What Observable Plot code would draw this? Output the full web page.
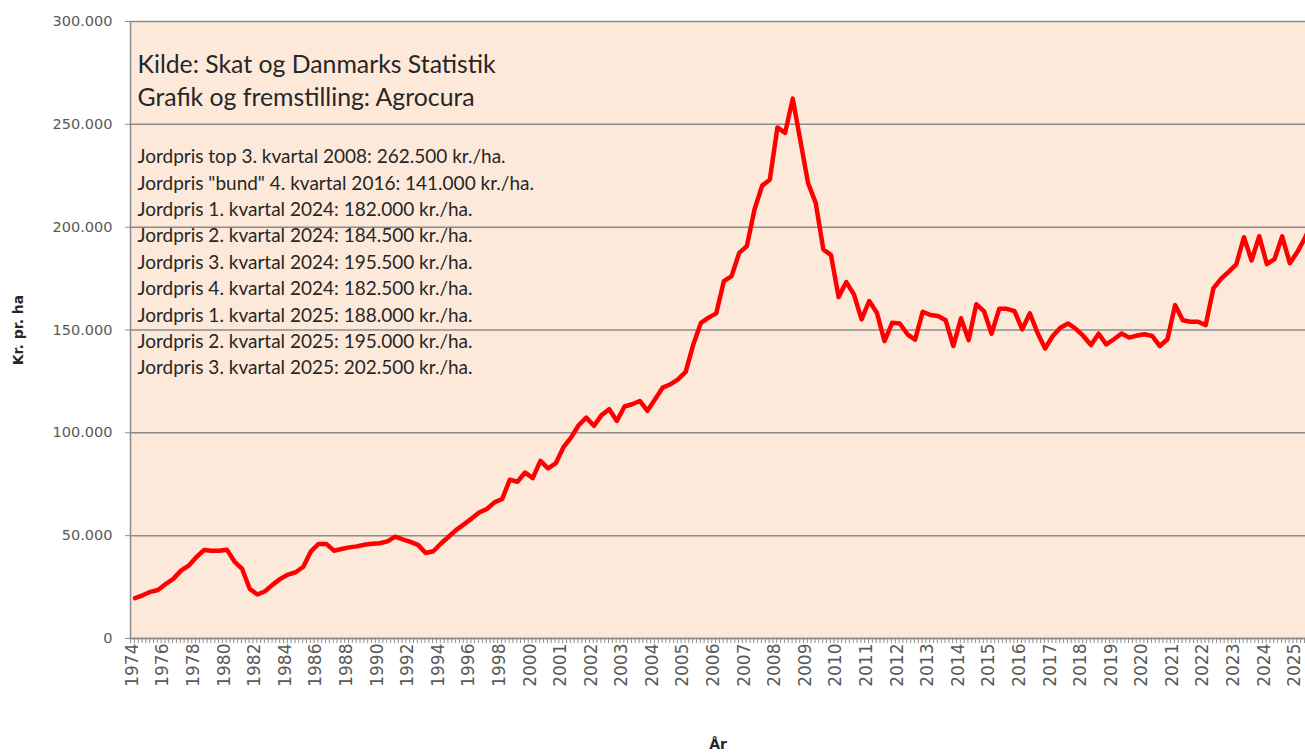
<!DOCTYPE html>
<html><head><meta charset="utf-8">
<script src="https://cdn.jsdelivr.net/npm/d3@7"></script>
<script src="https://cdn.jsdelivr.net/npm/@observablehq/plot@0.6"></script>
<style>body{margin:0;background:#fff;} #chart svg{display:block}</style>
</head><body><div id="chart"></div>
<script>
// Tick labels on the category axis (every 2 years until 1998, then every year)
const yearLabels = ["1974","1976","1978","1980","1982","1984","1986","1988","1990","1992","1994","1996","1998",
  "2000","2001","2002","2003","2004","2005","2006","2007","2008","2009","2010","2011","2012","2013","2014",
  "2015","2016","2017","2018","2019","2020","2021","2022","2023","2024","2025"];

// Land price, 1000 kr. per ha — half-yearly 1974 H1 .. 1999 H2
const halfYearValues = [19.6,21.0,22.7,23.6,26.5,29.0,33.0,35.4,39.5,43.0,42.7,42.7,43.2,37.4,33.8,24.1,21.4,23.0,26.2,29.0,
  31.1,32.2,34.9,42.4,46.0,46.0,42.7,43.5,44.3,44.8,45.6,46.1,46.3,47.2,49.5,48.2,47.0,45.5,41.6,42.4,
  46.2,49.5,52.8,55.5,58.3,61.3,63.0,66.2,67.8,77.2,76.2,80.7];

// Land price, 1000 kr. per ha — quarterly 2000 Q1 .. 2025 Q3
const quarterValues = [78.0,86.4,82.7,85.1, 92.9,97.7,103.7,107.4, 103.4,108.6,111.5,105.8, 112.8,113.9,115.5,110.7,
  116.3,122.0,123.6,126.0, 129.6,143.0,153.5,156.0, 158.1,173.8,176.2,187.5, 190.8,208.6,220.2,223.1,
  248.5,245.8,262.5,242.0, 221.5,211.8,189.2,186.4, 166.0,173.3,167.3,155.2, 164.1,158.4,144.6,153.5,
  153.2,147.9,145.3,158.9, 157.3,156.8,154.7,142.2, 155.7,145.1,162.5,159.2, 148.2,160.3,160.3,159.2,
  150.3,158.1,148.7,141.0, 147.1,151.1,153.2,150.6, 147.1,142.7,148.2,143.0, 145.5,148.3,146.3,147.3,
  147.9,147.1,142.2,145.5, 162.1,154.7,154.0,154.0, 152.4,170.2,174.9,178.3, 181.9,195.1,183.8,195.6,
  182.0,184.5,195.5,182.5, 188.0,195.0,202.5];

const yTicks = [0, 50000, 100000, 150000, 200000, 250000, 300000];

const sourceLines = ["Kilde: Skat og Danmarks Statistik", "Grafik og fremstilling: Agrocura"];
const noteLines = [
  "Jordpris top 3. kvartal 2008: 262.500 kr./ha.",
  "Jordpris \"bund\" 4. kvartal 2016: 141.000 kr./ha.",
  "Jordpris 1. kvartal 2024: 182.000 kr./ha.",
  "Jordpris 2. kvartal 2024: 184.500 kr./ha.",
  "Jordpris 3. kvartal 2024: 195.500 kr./ha.",
  "Jordpris 4. kvartal 2024: 182.500 kr./ha.",
  "Jordpris 1. kvartal 2025: 188.000 kr./ha.",
  "Jordpris 2. kvartal 2025: 195.000 kr./ha.",
  "Jordpris 3. kvartal 2025: 202.500 kr./ha."
];

// Build rows: one point per period index
const rows = [
  ...halfYearValues.map((v, i) => ({j: i, v: v * 1000})),
  ...quarterValues.map((v, i) => ({j: halfYearValues.length + i, v: v * 1000}))
];

const xDomain = [-0.6, 153.05];
const labelPos = yearLabels.map((d, k) => 4 * k - 0.35);
const labelMap = new Map(labelPos.map((p, k) => [p, yearLabels[k]]));
const minorTicks = d3.range(0, 308).map(m => -0.59 + m / 2);

const fmt = d3.formatLocale({decimal: ",", thousands: ".", grouping: [3], currency: ["", ""]}).format(",d");

const grid = "#8c8c8c";
const chart = Plot.plot({
  width: 1305, height: 756,
  marginLeft: 130, marginRight: 0, marginTop: 21, marginBottom: 118,
  x: {type: "linear", domain: xDomain},
  y: {domain: [0, 300000]},
  style: {fontFamily: "DejaVu Sans", color: "#595959", background: "white", overflow: "visible"},
  marks: [
    Plot.frame({fill: "#FDE9D9", stroke: null}),
    Plot.gridY(yTicks, {stroke: grid, strokeOpacity: 1, strokeWidth: 1.5}),
    Plot.ruleX([xDomain[0]], {stroke: grid, strokeWidth: 1.5}),
    Plot.ruleY([0], {stroke: grid, strokeWidth: 1.5}),
    Plot.axisY(yTicks, {tickSize: 5, tickPadding: 13, tickFormat: fmt, fontSize: 14.5, label: null, stroke: grid, fill: "#595959"}),
    Plot.axisX(minorTicks, {tickSize: 5, tickFormat: () => "", label: null, stroke: grid}),
    Plot.axisX(labelPos, {tickSize: 0, tickPadding: 5, tickRotate: -90, tickFormat: d => labelMap.get(d), fontSize: 17, label: null, fill: "#595959"}),
    Plot.line(rows, {x: "j", y: "v", stroke: "#FF0000", strokeWidth: 4.5, strokeLinejoin: "round", strokeLinecap: "round", clip: true}),
    Plot.text([sourceLines.join("\n")], {frameAnchor: "top-left", dx: 7, dy: 28, lineAnchor: "top", textAnchor: "start",
      fontSize: 24.8, lineHeight: 33.3 / 24.8, fill: "#262626", fontFamily: "Lato"}),
    Plot.text([noteLines.join("\n")], {frameAnchor: "top-left", dx: 7, dy: 123, lineAnchor: "top", textAnchor: "start",
      fontSize: 19, lineHeight: 26.4 / 19, fill: "#262626", fontFamily: "Lato"}),
    Plot.text(["Kr. pr. ha"], {frameAnchor: "left", dx: -112, rotate: -90, textAnchor: "middle", fontWeight: "bold", fontSize: 14, fill: "#262626"}),
    Plot.text(["År"], {frameAnchor: "bottom", dy: 110, textAnchor: "middle", fontWeight: "bold", fontSize: 14, fill: "#262626"})
  ]
});
document.getElementById("chart").appendChild(chart);
</script>
</body></html>
